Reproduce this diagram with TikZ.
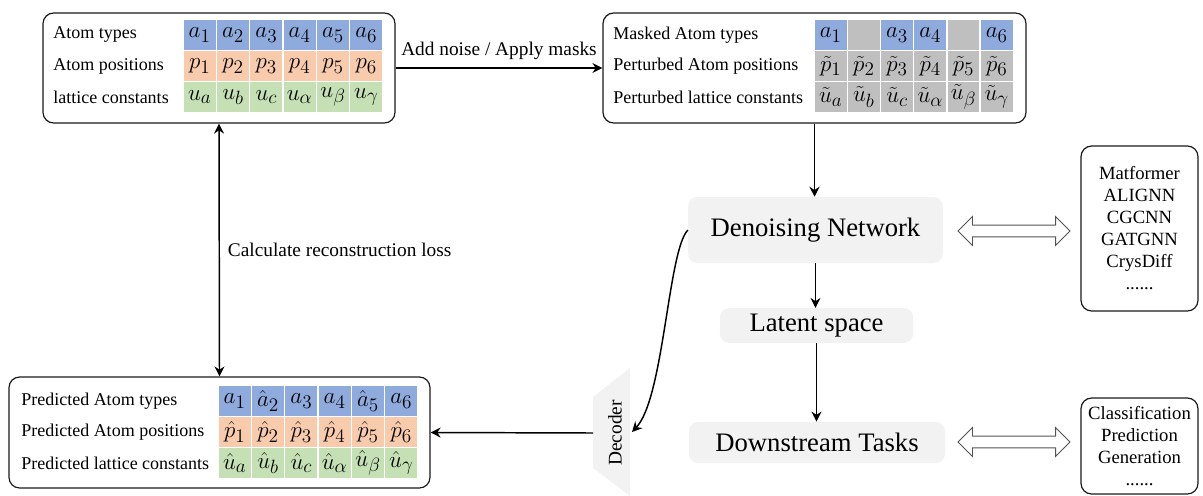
\documentclass[tikz,border=0pt]{standalone}
\usepackage{amsmath,amssymb}
\usepackage{fontspec}
\setmainfont{Liberation Serif}
\usepackage{tikz}
\usetikzlibrary{calc,arrows.meta,shapes.arrows}
\definecolor{atomblue}{HTML}{8FAADC}
\definecolor{posorange}{HTML}{F8CBAD}
\definecolor{latgreen}{HTML}{C5E0B4}
\definecolor{maskgray}{HTML}{BFBFBF}
\definecolor{panel}{HTML}{F2F2F2}
\definecolor{frame}{HTML}{1A1A1A}
\tikzset{
  box/.style={draw=frame, line width=0.9pt, rounded corners=8pt, inner sep=0pt},
  cell/.style={draw=white, line width=1pt, minimum width=25pt, minimum height=23.25pt, inner sep=0pt, font=\fontsize{19}{21}\selectfont},
  rowlab/.style={anchor=west, inner sep=0pt, font=\fontsize{13.5}{15}\selectfont},
  stage/.style={fill=panel, rounded corners=7pt, inner sep=0pt, font=\fontsize{20}{24}\selectfont},
  flow/.style={draw=black, line width=1.1pt, -{Stealth[length=7.5pt,width=7.5pt,inset=2.5pt]}},
  hollow/.style={double arrow, draw=frame!75, fill=white, line width=0.7pt, double arrow head extend=6.4pt, minimum height=84pt, inner sep=4.1pt},
  lab/.style={inner sep=0pt, font=\fontsize{14.5}{16}\selectfont},
  listbox/.style={box, align=center, font=\fontsize{14}{16.5}\selectfont},
}

\begin{document}
\begin{tikzpicture}[x=0.75pt,y=-0.75pt]
  \useasboundingbox (0,0) rectangle (1203,496);

  \node[box, minimum width=264pt, minimum height=82.5pt] (orig) at (219,68) {};
  \node[box, minimum width=317.25pt, minimum height=82.5pt] (noisy) at (814.5,68) {};
  \node[box, minimum width=315.75pt, minimum height=83.25pt] (pred) at (219.5,432.5) {};

  \node[rowlab] (orig-l1) at (53,35) {Atom types};
  \node[rowlab] (orig-l2) at (53,66) {Atom positions};
  \node[rowlab] (orig-l3) at (53,97) {lattice constants};
  \foreach \v [count=\i from 0] in {a_1,a_2,a_3,a_4,a_5,a_6}
    \node[cell, fill=atomblue] (orig-a\i) at (199.7+33.33*\i,35) {$\v$};
  \foreach \v [count=\i from 0] in {p_1,p_2,p_3,p_4,p_5,p_6}
    \node[cell, fill=posorange] (orig-p\i) at (199.7+33.33*\i,66) {$\v$};
  \foreach \v [count=\i from 0] in {u_a,u_b,u_c,u_\alpha,u_\beta,u_\gamma}
    \node[cell, fill=latgreen] (orig-u\i) at (199.7+33.33*\i,97) {$\v$};

  \node[rowlab] (noisy-l1) at (613,35) {Masked Atom types};
  \node[rowlab] (noisy-l2) at (613,66) {Perturbed Atom positions};
  \node[rowlab] (noisy-l3) at (613,97) {Perturbed lattice constants};
  \foreach \v/\f [count=\i from 0] in {a_1/atomblue,{}/maskgray,a_3/atomblue,a_4/atomblue,{}/maskgray,a_6/atomblue}
    \node[cell, fill=\f] (noisy-a\i) at (830.7+33.2*\i,35) {$\v$};
  \foreach \v [count=\i from 0] in {\tilde{p}_1,\tilde{p}_2,\tilde{p}_3,\tilde{p}_4,\tilde{p}_5,\tilde{p}_6}
    \node[cell, fill=maskgray] (noisy-p\i) at (830.7+33.2*\i,66) {$\v$};
  \foreach \v [count=\i from 0] in {\tilde{u}_a,\tilde{u}_b,\tilde{u}_c,\tilde{u}_\alpha,\tilde{u}_\beta,\tilde{u}_\gamma}
    \node[cell, fill=maskgray] (noisy-u\i) at (830.7+33.2*\i,97) {$\v$};

  \node[rowlab] (pred-l1) at (21,401) {Predicted Atom types};
  \node[rowlab] (pred-l2) at (21,432) {Predicted Atom positions};
  \node[rowlab] (pred-l3) at (21,463) {Predicted lattice constants};
  \foreach \v [count=\i from 0] in {a_1,\hat{a}_2,a_3,a_4,\hat{a}_5,a_6}
    \node[cell, fill=atomblue] (pred-a\i) at (234.7+33.33*\i,401) {$\v$};
  \foreach \v [count=\i from 0] in {\hat{p}_1,\hat{p}_2,\hat{p}_3,\hat{p}_4,\hat{p}_5,\hat{p}_6}
    \node[cell, fill=posorange] (pred-p\i) at (234.7+33.33*\i,432) {$\v$};
  \foreach \v [count=\i from 0] in {\hat{u}_a,\hat{u}_b,\hat{u}_c,\hat{u}_\alpha,\hat{u}_\beta,\hat{u}_\gamma}
    \node[cell, fill=latgreen] (pred-u\i) at (234.7+33.33*\i,463) {$\v$};

  \node[stage, minimum width=191pt, minimum height=49.5pt] (denoise) at (815.5,230) {Denoising Network};
  \node[stage, minimum width=145pt, minimum height=26pt] (latent) at (816.5,325.5) {Latent space};
  \node[stage, minimum width=192pt, minimum height=31pt] (tasks) at (817,442.5) {Downstream Tasks};

  \fill[panel] (593,397) -- (630,368) -- (630,496) -- (593,468) -- cycle;
  \node[lab, rotate=90, font=\fontsize{14.5}{16}\selectfont] (decoder) at (615,433) {Decoder};
  \coordinate (dec-in) at (632,432);
  \coordinate (dec-out) at (593,433);

  \node[listbox, minimum width=87.75pt, minimum height=123.75pt] (models) at (1139.5,228.5)
    {Matformer\\ALIGNN\\CGCNN\\GATGNN\\CrysDiff\\......};
  \node[listbox, minimum width=87.75pt, minimum height=72pt] (apps) at (1139.5,446)
    {Classification\\Prediction\\Generation\\......};

  \node[hollow] (link-models) at (1014,231) {};
  \node[hollow] (link-apps) at (1014,442) {};

  \draw[flow] (orig.east) -- node[lab, above=6pt] {Add noise / Apply masks} (noisy.west);
  \draw[flow, {Stealth[length=7.5pt,width=7.5pt,inset=2.5pt]}-{Stealth[length=7.5pt,width=7.5pt,inset=2.5pt]}]
    (orig.south) -- node[lab, right=6pt] {Calculate reconstruction loss} (pred.north);
  \draw[flow] (noisy.south) -- (noisy.south |- denoise.north);
  \draw[flow] (denoise.south) -- (denoise.south |- latent.north);
  \draw[flow] (latent.south) -- (latent.south |- tasks.north);
  \draw[flow] (denoise.west) .. controls (668,250) and (664,398) .. (dec-in);
  \draw[flow] (dec-out) -- (pred.east);
\end{tikzpicture}
\end{document}
